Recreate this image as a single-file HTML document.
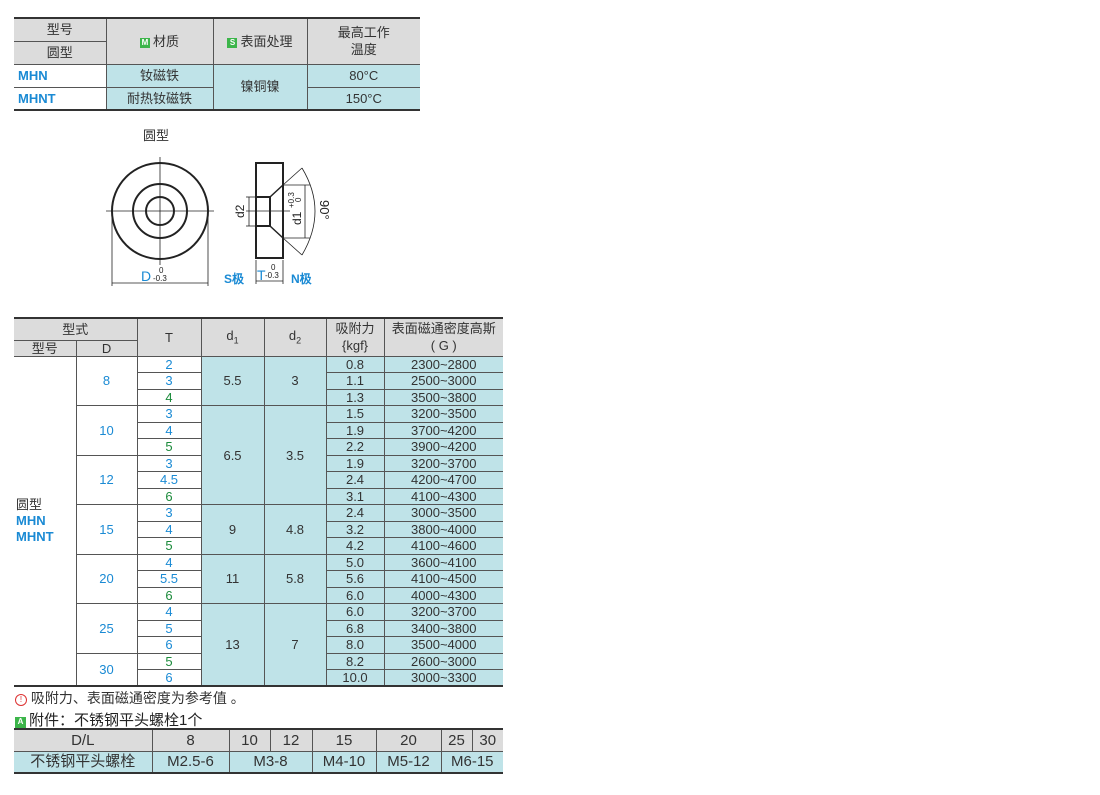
<!DOCTYPE html>
<html><head><meta charset="utf-8">
<style>
body{margin:0;width:1100px;height:795px;background:#fff;position:relative;font-family:"Liberation Sans","Noto Sans CJK SC",sans-serif;color:#333;overflow:hidden}
table{border-collapse:collapse;position:absolute;table-layout:fixed;font-size:13px}
td{padding:0;text-align:center;border:1px solid #555;line-height:1;white-space:nowrap;overflow:hidden}
.h{background:#dcdcdc}
.b{background:#bfe3e8}
.bl{color:#1a8ad4}
.gr{color:#1a8a3a}
.l{text-align:left}
.ic{display:inline-block;width:10px;height:10px;background:#3cb54a;color:#fff;font-size:8px;line-height:10px;text-align:center;vertical-align:1px;margin-right:3px;font-weight:bold}
</style></head><body>

<table style="left:14px;top:17px;width:406px;border-top:2px solid #333;border-bottom:2px solid #333">
<colgroup><col style="width:92px"><col style="width:107px"><col style="width:94px"><col style="width:113px"></colgroup>
<tr style="height:23px"><td class="h" style="border-left:0">型号</td><td class="h" rowspan="2"><span class="ic">M</span>材质</td><td class="h" rowspan="2"><span class="ic">S</span>表面处理</td><td class="h" rowspan="2" style="border-right:0;line-height:17px">最高工作<br>温度</td></tr>
<tr style="height:23px"><td class="h" style="border-left:0">圆型</td></tr>
<tr style="height:23px"><td class="l bl" style="border-left:0;font-weight:bold;padding-left:4px">MHN</td><td class="b">钕磁铁</td><td class="b" rowspan="2">镍铜镍</td><td class="b" style="border-right:0">80°C</td></tr>
<tr style="height:23px"><td class="l bl" style="border-left:0;font-weight:bold;padding-left:4px">MHNT</td><td class="b">耐热钕磁铁</td><td class="b" style="border-right:0">150°C</td></tr>
</table>

<div style="position:absolute;left:143px;top:125px;font-size:13px">圆型</div>
<svg style="position:absolute;left:0;top:0" width="520" height="300">
<g stroke="#222" fill="none">
<circle cx="160" cy="211" r="48" stroke-width="2"/>
<circle cx="160" cy="211" r="27" stroke-width="2"/>
<circle cx="160" cy="211" r="14" stroke-width="2"/>
<line x1="106" y1="211" x2="214" y2="211" stroke-width="0.8"/>
<line x1="160" y1="157" x2="160" y2="265" stroke-width="0.8"/>
<line x1="112" y1="215" x2="112" y2="286" stroke-width="0.8"/>
<line x1="208" y1="215" x2="208" y2="286" stroke-width="0.8"/>
<line x1="112" y1="283" x2="208" y2="283" stroke-width="0.8"/>
<rect x="256" y="163" width="27" height="95" stroke-width="2"/>
<polyline points="256,197 270,197 270,226 256,226" stroke-width="2"/>
<line x1="270" y1="197" x2="283" y2="185" stroke-width="1.5"/>
<line x1="270" y1="226" x2="283" y2="238" stroke-width="1.5"/>
<line x1="283" y1="185" x2="302" y2="168" stroke-width="0.8"/>
<line x1="283" y1="238" x2="302" y2="255" stroke-width="0.8"/>
<path d="M302,168 Q328,211 302,255" stroke-width="0.8"/>
<line x1="283" y1="185" x2="310" y2="185" stroke-width="0.8"/>
<line x1="283" y1="238" x2="310" y2="238" stroke-width="0.8"/>
<line x1="305" y1="185" x2="305" y2="238" stroke-width="0.8"/>
<line x1="246" y1="197" x2="256" y2="197" stroke-width="0.8"/>
<line x1="246" y1="226" x2="256" y2="226" stroke-width="0.8"/>
<line x1="249" y1="197" x2="249" y2="226" stroke-width="0.8"/>
<line x1="246" y1="211" x2="290" y2="211" stroke-width="0.8"/>
<line x1="256" y1="260" x2="256" y2="284" stroke-width="0.8"/>
<line x1="283" y1="260" x2="283" y2="284" stroke-width="0.8"/>
<line x1="256" y1="281" x2="283" y2="281" stroke-width="0.8"/>
</g>
<g fill="#222" font-family="Liberation Sans" font-size="11">
<text x="141" y="281" font-size="14" fill="#1a8ad4">D</text>
<text x="159" y="273" font-size="8">0</text>
<text x="153" y="281" font-size="8">-0.3</text>
<text x="224" y="283" font-size="12" fill="#1a8ad4" font-weight="bold">S极</text>
<text x="257" y="280" font-size="14" fill="#1a8ad4">T</text>
<text x="271" y="270" font-size="8">0</text>
<text x="265" y="278" font-size="8">-0.3</text>
<text x="291" y="283" font-size="12" fill="#1a8ad4" font-weight="bold">N极</text>
<text transform="translate(244,218) rotate(-90)" font-size="12">d2</text>
<text transform="translate(301,225) rotate(-90)" font-size="12">d1</text>
<text transform="translate(294,208) rotate(-90)" font-size="8">+0.3</text>
<text transform="translate(301,202) rotate(-90)" font-size="8">0</text>
<text transform="translate(320,200) rotate(90)" font-size="13">90°</text>
</g>
</svg>

<table style="left:14px;top:317px;width:489px;border-top:2px solid #333;border-bottom:2px solid #333;font-size:13px">
<colgroup><col style="width:62px"><col style="width:61px"><col style="width:64px"><col style="width:63px"><col style="width:62px"><col style="width:58px"><col style="width:119px"></colgroup>
<tr style="height:22px"><td class="h" colspan="2" style="border-left:0">型式</td><td class="h" rowspan="2">T</td><td class="h" rowspan="2">d<sub style="font-size:9px">1</sub></td><td class="h" rowspan="2">d<sub style="font-size:9px">2</sub></td><td class="h" rowspan="2" style="line-height:17px">吸附力<br>{kgf}</td><td class="h" rowspan="2" style="border-right:0;line-height:17px">表面磁通密度高斯<br>( G )</td></tr>
<tr style="height:16px"><td class="h" style="border-left:0">型号</td><td class="h">D</td></tr>
<tr style="height:16.5px"><td rowspan="20" class="l" style="border-left:0;border-bottom:0;vertical-align:middle;padding-left:2px;line-height:16px">圆型<br><b class="bl">MHN<br>MHNT</b></td><td rowspan="3" class="bl">8</td><td class="bl">2</td><td class="b" rowspan="3">5.5</td><td class="b" rowspan="3">3</td><td class="b">0.8</td><td class="b" style="border-right:0">2300~2800</td></tr>
<tr style="height:16.5px"><td class="bl">3</td><td class="b">1.1</td><td class="b" style="border-right:0">2500~3000</td></tr>
<tr style="height:16.5px"><td class="gr">4</td><td class="b">1.3</td><td class="b" style="border-right:0">3500~3800</td></tr>
<tr style="height:16.5px"><td rowspan="3" class="bl">10</td><td class="bl">3</td><td class="b" rowspan="6">6.5</td><td class="b" rowspan="6">3.5</td><td class="b">1.5</td><td class="b" style="border-right:0">3200~3500</td></tr>
<tr style="height:16.5px"><td class="bl">4</td><td class="b">1.9</td><td class="b" style="border-right:0">3700~4200</td></tr>
<tr style="height:16.5px"><td class="gr">5</td><td class="b">2.2</td><td class="b" style="border-right:0">3900~4200</td></tr>
<tr style="height:16.5px"><td rowspan="3" class="bl">12</td><td class="bl">3</td><td class="b">1.9</td><td class="b" style="border-right:0">3200~3700</td></tr>
<tr style="height:16.5px"><td class="bl">4.5</td><td class="b">2.4</td><td class="b" style="border-right:0">4200~4700</td></tr>
<tr style="height:16.5px"><td class="gr">6</td><td class="b">3.1</td><td class="b" style="border-right:0">4100~4300</td></tr>
<tr style="height:16.5px"><td rowspan="3" class="bl">15</td><td class="bl">3</td><td class="b" rowspan="3">9</td><td class="b" rowspan="3">4.8</td><td class="b">2.4</td><td class="b" style="border-right:0">3000~3500</td></tr>
<tr style="height:16.5px"><td class="bl">4</td><td class="b">3.2</td><td class="b" style="border-right:0">3800~4000</td></tr>
<tr style="height:16.5px"><td class="gr">5</td><td class="b">4.2</td><td class="b" style="border-right:0">4100~4600</td></tr>
<tr style="height:16.5px"><td rowspan="3" class="bl">20</td><td class="bl">4</td><td class="b" rowspan="3">11</td><td class="b" rowspan="3">5.8</td><td class="b">5.0</td><td class="b" style="border-right:0">3600~4100</td></tr>
<tr style="height:16.5px"><td class="bl">5.5</td><td class="b">5.6</td><td class="b" style="border-right:0">4100~4500</td></tr>
<tr style="height:16.5px"><td class="gr">6</td><td class="b">6.0</td><td class="b" style="border-right:0">4000~4300</td></tr>
<tr style="height:16.5px"><td rowspan="3" class="bl">25</td><td class="bl">4</td><td class="b" rowspan="5">13</td><td class="b" rowspan="5">7</td><td class="b">6.0</td><td class="b" style="border-right:0">3200~3700</td></tr>
<tr style="height:16.5px"><td class="bl">5</td><td class="b">6.8</td><td class="b" style="border-right:0">3400~3800</td></tr>
<tr style="height:16.5px"><td class="bl">6</td><td class="b">8.0</td><td class="b" style="border-right:0">3500~4000</td></tr>
<tr style="height:16.5px"><td rowspan="2" class="bl">30</td><td class="gr">5</td><td class="b">8.2</td><td class="b" style="border-right:0">2600~3000</td></tr>
<tr style="height:16.5px"><td class="bl">6</td><td class="b">10.0</td><td class="b" style="border-right:0">3000~3300</td></tr>
</table>

<div style="position:absolute;left:15px;top:688px;font-size:14px;color:#333"><span style="display:inline-block;width:10px;height:10px;border:1px solid #d33;border-radius:50%;color:#d33;font-size:8px;line-height:10px;text-align:center;vertical-align:1px">!</span> 吸附力、表面磁通密度为参考值 。</div>
<div style="position:absolute;left:15px;top:709px;font-size:15px;color:#222"><span class="ic" style="width:11px;height:11px">A</span>附件：不锈钢平头螺栓1个</div>

<table style="left:14px;top:728px;width:489px;border-top:2px solid #333;border-bottom:2px solid #333;font-size:15px">
<colgroup><col style="width:138px"><col style="width:77px"><col style="width:41px"><col style="width:42px"><col style="width:64px"><col style="width:65px"><col style="width:31px"><col style="width:31px"></colgroup>
<tr style="height:22px"><td class="h" style="border-left:0">D/L</td><td class="h">8</td><td class="h">10</td><td class="h">12</td><td class="h">15</td><td class="h">20</td><td class="h">25</td><td class="h" style="border-right:0">30</td></tr>
<tr style="height:22px"><td class="b" style="border-left:0">不锈钢平头螺栓</td><td class="b">M2.5-6</td><td class="b" colspan="2">M3-8</td><td class="b">M4-10</td><td class="b">M5-12</td><td class="b" colspan="2" style="border-right:0">M6-15</td></tr>
</table>
</body></html>
